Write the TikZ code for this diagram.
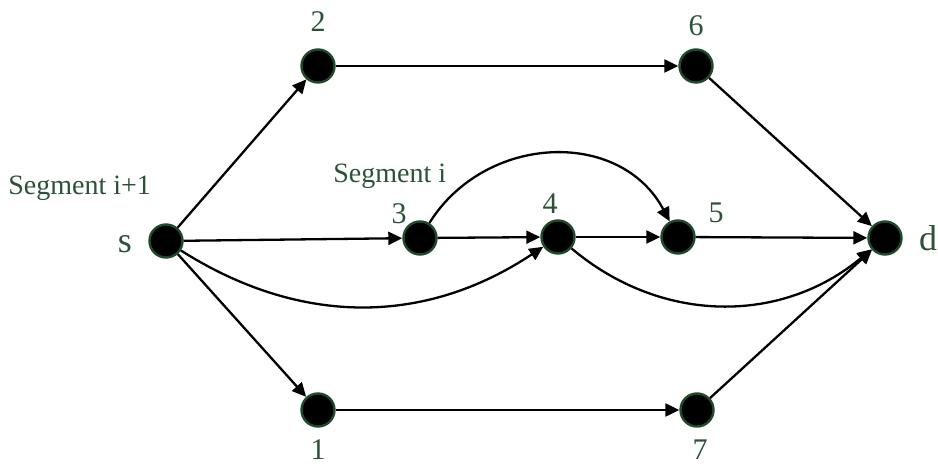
\documentclass[tikz,border=0pt]{standalone}
\usepackage{fontspec}
\setmainfont{Liberation Serif}
\usetikzlibrary{arrows.meta}
\definecolor{RimGreen}{HTML}{1F4A2A}
\definecolor{TagGreen}{HTML}{2B5237}

\begin{document}
\begin{tikzpicture}[x=0.5pt, y=0.5pt,
  vtx/.style={circle, fill=black, draw=RimGreen, line width=1.2pt,
              minimum size=16.5pt, inner sep=0pt},
  tag/.style={text=TagGreen, anchor=base, inner sep=0pt,
              font=\fontsize{15}{18}\selectfont},
  link/.style={-{Triangle[length=7pt,width=6.5pt]}, line width=1.15pt, black}]
  \useasboundingbox (0,0) rectangle (938,466);

  % ===== VERTICES =====
  \node[vtx] (s)  at (166,225) {};
  \node[vtx] (n2) at (318,400) {};
  \node[vtx] (n6) at (696,400) {};
  \node[vtx] (n3) at (420,228) {};
  \node[vtx] (n4) at (558,229) {};
  \node[vtx] (n5) at (678,229) {};
  \node[vtx] (d)  at (885,228) {};
  \node[vtx] (n1) at (318,56)  {};
  \node[vtx] (n7) at (697,56)  {};

  % ===== VERTEX LABELS =====
  \node[tag] (t2) at (318,434) {2};
  \node[tag] (t6) at (696,430) {6};
  \node[tag] (t3) at (399,242) {3};
  \node[tag] (t4) at (550,252) {4};
  \node[tag] (t5) at (716,243) {5};
  \node[tag] (t1) at (318,6)   {1};
  \node[tag] (t7) at (700,6)   {7};
  \node[tag, font=\fontsize{18}{21}\selectfont] (ts) at (125,213) {s};
  \node[tag, font=\fontsize{18}{21}\selectfont] (td) at (928,215) {d};

  % ===== SEGMENT NAMES =====
  \node[tag, anchor=base west, font=\fontsize{14}{17}\selectfont] (segA) at (8,271) {Segment i+1};
  \node[tag, anchor=base west, font=\fontsize{14}{17}\selectfont] (segB) at (333,283) {Segment i};

  % ===== EDGES =====
  \draw[link] (s) -- (n2);
  \draw[link] (s) -- (n1);
  \draw[link] (s) -- (n3);
  \draw[link] (s) to[bend right=33] (n4);
  \draw[link] (n2) -- (n6);
  \draw[link] (n6) -- (d);
  \draw[link] (n1) -- (n7);
  \draw[link] (n7) -- (d);
  \draw[link] (n3) -- (n4);
  \draw[link] (n4) -- (n5);
  \draw[link] (n5) -- (d);
  \draw[link] (n3) to[out=58, in=118, looseness=1.12] (n5);
  \draw[link] (n4) to[bend right=40] (d);

\end{tikzpicture}
\end{document}
